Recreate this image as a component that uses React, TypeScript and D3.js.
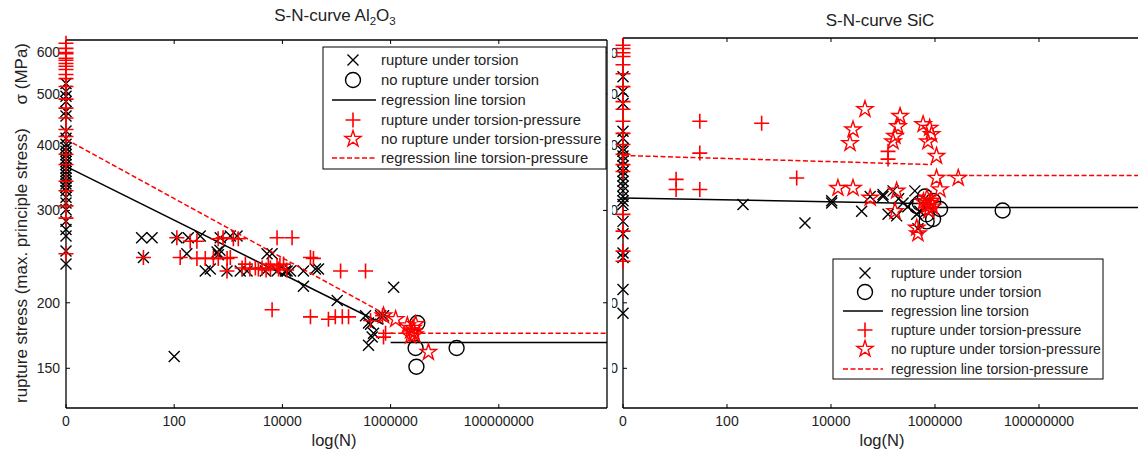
import React from "react";
import * as d3 from "d3";

// ---------- shared axis data ----------
const xTickValues = [1, 1e2, 1e4, 1e6, 1e8];
const xTickLabels = ["0", "100", "10000", "1000000", "100000000"];
const yTickValues = [150, 200, 300, 400, 500, 600];
const yTickLabels = ["150", "200", "300", "400", "500", "600"];
const legendLabels = [
  "rupture under torsion",
  "no rupture under torsion",
  "regression line torsion",
  "rupture under torsion-pressure",
  "no rupture under torsion-pressure",
  "regression line torsion-pressure",
];

// ---------- Al2O3 ----------
// stresses of specimens plotted at N = 1 (label "0")
const alTorsionAtZero = [524, 506, 495, 484, 463, 454, 425, 412, 401, 395, 389, 383, 377, 372, 367, 361, 356, 351, 346, 341, 337, 332, 327, 318, 310, 301, 286, 276, 268, 251, 237];
const alPressureAtZero = [625, 611, 600, 597, 585, 580, 572, 565, 557, 545, 535, 517, 489, 470, 450, 428, 415, 384, 367, 341, 327, 306, 290, 248];
const alTorsionRupture: [number, number][] = [
  [25, 266], [39, 266], [27, 244], [100, 158], [112, 266], [171, 248], [182, 266], [303, 268],
  [375, 230], [464, 232], [620, 250], [653, 247], [700, 252], [710, 266], [946, 230], [1090, 268],
  [1450, 268], [1660, 230], [2220, 230], [4840, 230], [5200, 248], [6450, 248], [7960, 230],
  [11400, 230], [12200, 230], [14100, 230], [24500, 230], [24500, 215], [40700, 232], [46400, 232],
  [103000, 202], [344000, 189], [390000, 183], [390000, 166], [426000, 182], [457000, 172],
  [484000, 175], [653000, 189], [740000, 189], [1140000, 214],
];
const alTorsionRunout: [number, number][] = [[3120000, 183], [2900000, 164], [3000000, 151], [16600000, 164]];
const alPressureRupture: [number, number][] = [
  [27, 244], [112, 266], [129, 244], [198, 262], [263, 262], [263, 243], [375, 243], [530, 243],
  [650, 265], [653, 243], [800, 266], [950, 243], [946, 230], [1090, 244], [1240, 265], [1530, 265],
  [1800, 233], [2070, 237], [2500, 232], [3160, 233], [3600, 232], [4210, 233], [5000, 231],
  [5500, 237], [6000, 233], [6450, 194], [7960, 266], [7960, 235], [8500, 232], [9000, 236],
  [10500, 237], [12000, 231], [15100, 266], [33000, 244], [37500, 243], [33000, 188], [71000, 186],
  [95000, 188], [119000, 230], [128000, 188], [167000, 188], [344000, 230], [426000, 185],
  [710000, 189], [740000, 172], [808000, 175],
];
const alPressureRunout: [number, number][] = [
  [740000, 189], [1240000, 186], [2040000, 181], [2350000, 177], [2670000, 176], [2350000, 173],
  [2900000, 182], [5000000, 161], [2600000, 179], [2800000, 174],
];
const alRegTorsion: [number, number][] = [[1, 364], [740000, 182]];
const alRegTorsionFlat: [number, number][] = [[1e6, 168], [1e10, 168]];
const alRegPressure: [number, number][] = [[1, 410], [740000, 191]];
const alRegPressureFlat: [number, number][] = [[1e6, 175], [1e10, 175]];

// ---------- SiC ----------
const sicTorsionAtZero = [540, 506, 480, 425, 412, 394, 389, 381, 373, 365, 356, 349, 341, 334, 327, 319, 313, 308, 286, 271, 249, 244, 212, 191];
const sicPressureAtZero = [620, 611, 600, 590, 569, 547, 517, 484, 468, 444, 421, 401, 384, 367, 356, 295, 274, 251, 240];
const sicTorsionRupture: [number, number][] = [
  [203, 308], [3160, 284], [10300, 313], [10300, 310], [38900, 299], [56700, 319], [100000, 319],
  [100000, 322], [125000, 295], [156000, 327], [183000, 293], [243000, 310], [410000, 327],
  [445000, 295], [510000, 299], [470000, 277], [300000, 305], [200000, 316],
];
const sicTorsionRunout: [number, number][] = [
  [510000, 310], [690000, 295], [920000, 289], [1250000, 302], [445000, 306], [640000, 319],
  [920000, 313], [20000000, 300], [690000, 286],
];
const sicPressureRupture: [number, number][] = [
  [30, 444], [464, 440], [30, 386], [10.5, 344], [10.5, 329], [30, 329], [2190, 346], [125000, 389], [125000, 376],
];
const sicPressureRunout: [number, number][] = [
  [45000, 468], [26500, 428], [23200, 403], [13600, 331], [26500, 331], [56700, 317], [213000, 454],
  [194000, 434], [170000, 416], [156000, 406], [590000, 438], [790000, 431], [860000, 419],
  [730000, 406], [1070000, 381], [1070000, 346], [1250000, 329], [2800000, 346], [183000, 327],
  [170000, 299], [445000, 278], [470000, 271], [690000, 306], [700000, 317], [800000, 310],
  [850000, 313], [760000, 300], [900000, 305], [600000, 312],
];
const sicRegTorsion: [number, number][] = [[1, 317], [880000, 309]];
const sicRegTorsionFlat: [number, number][] = [[1e6, 304], [1e10, 304]];
const sicRegPressure: [number, number][] = [[1, 382], [880000, 367]];
const sicRegPressureFlat: [number, number][] = [[1.2e6, 350], [1e10, 350]];

// ---------- styling ----------
const FONT = "Arial, 'Liberation Sans', Helvetica, sans-serif";
const RED = "#ff0000";
const BLACK = "#000000";

const xPath = (s: number) => `M${-s},${-s}L${s},${s}M${-s},${s}L${s},${-s}`;
const plusPath = (p: number) => `M${-p},0H${p}M0,${-p}V${p}`;
const starPath = (R: number) => {
  const r = R * 0.382;
  const pts: string[] = [];
  for (let i = 0; i < 10; i++) {
    const rad = i % 2 === 0 ? R : r;
    const a = -Math.PI / 2 + (i * Math.PI) / 5;
    pts.push(`${(rad * Math.cos(a)).toFixed(2)},${(rad * Math.sin(a)).toFixed(2)}`);
  }
  return "M" + pts.join("L") + "Z";
};

type Sc = (v: number) => number;

function Marker({ kind, x, y }: { kind: string; x: number; y: number }) {
  if (kind === "x")
    return <path d={xPath(5.5)} transform={`translate(${x},${y})`} stroke={BLACK} strokeWidth={1.4} fill="none" />;
  if (kind === "o")
    return <circle cx={x} cy={y} r={7.5} stroke={BLACK} strokeWidth={1.4} fill="none" />;
  if (kind === "+")
    return <path d={plusPath(7.5)} transform={`translate(${x},${y})`} stroke={RED} strokeWidth={1.6} fill="none" />;
  return <path d={starPath(8.5)} transform={`translate(${x},${y})`} stroke={RED} strokeWidth={1.4} fill="none" />;
}

function Series({ pts, kind, xs, ys }: { pts: [number, number][]; kind: string; xs: Sc; ys: Sc }) {
  return (
    <g>
      {pts.map((p, i) => (
        <Marker key={i} kind={kind} x={xs(p[0])} y={ys(p[1])} />
      ))}
    </g>
  );
}

function Legend({ x0, y0, w, h, rowY, markX, lineX0, lineX1, textX, fontSize }: any) {
  const kinds = ["x", "o", "line", "+", "star", "dash"];
  return (
    <g>
      <rect x={x0} y={y0} width={w} height={h} fill="#fff" stroke={BLACK} strokeWidth={1} />
      {kinds.map((k, i) => {
        const y = rowY[i];
        let m: any;
        if (k === "line") m = <line x1={lineX0} x2={lineX1} y1={y} y2={y} stroke={BLACK} strokeWidth={1.5} />;
        else if (k === "dash")
          m = <line x1={lineX0} x2={lineX1} y1={y} y2={y} stroke={RED} strokeWidth={1.5} strokeDasharray="5,2.5" />;
        else m = <Marker kind={k} x={markX} y={y} />;
        return (
          <g key={i}>
            {m}
            <text x={textX} y={y} dy="0.35em" fontSize={fontSize} fontFamily={FONT} fill="#222">
              {legendLabels[i]}
            </text>
          </g>
        );
      })}
    </g>
  );
}

function Panel(props: any) {
  const { xs, ys, x0, x1, yTop, yBot, rightBorder, data, yLabelX, clipId } = props;
  const lineGen = d3
    .line<[number, number]>()
    .x((d) => xs(d[0]))
    .y((d) => ys(d[1]));
  const tk = 4;
  return (
    <g>
      <line x1={x0} x2={x1} y1={yBot} y2={yBot} stroke={BLACK} strokeWidth={1.3} />
      <line x1={x0} x2={x1} y1={yTop} y2={yTop} stroke={BLACK} strokeWidth={1.3} />
      <line x1={x0} x2={x0} y1={yTop} y2={yBot} stroke={BLACK} strokeWidth={1.3} />
      {rightBorder && <line x1={x1} x2={x1} y1={yTop} y2={yBot} stroke={BLACK} strokeWidth={1.3} />}
      {xTickValues.map((v, i) => (
        <g key={"xt" + i}>
          <line x1={xs(v)} x2={xs(v)} y1={yBot} y2={yBot - tk} stroke={BLACK} />
          <line x1={xs(v)} x2={xs(v)} y1={yTop} y2={yTop + tk} stroke={BLACK} />
          <text x={xs(v)} y={426} textAnchor="middle" fontSize={14} fontFamily={FONT} fill="#222">
            {xTickLabels[i]}
          </text>
        </g>
      ))}
      {yTickValues.map((v, i) => (
        <g key={"yt" + i}>
          <line x1={x0} x2={x0 + tk} y1={ys(v)} y2={ys(v)} stroke={BLACK} />
          {rightBorder && <line x1={x1} x2={x1 - tk} y1={ys(v)} y2={ys(v)} stroke={BLACK} />}
        </g>
      ))}
      <g clipPath={clipId ? `url(#${clipId})` : undefined}>
        {yTickValues.map((v, i) => (
          <text key={"yl" + i} x={yLabelX} y={ys(v)} dy="0.35em" textAnchor="end" fontSize={14} fontFamily={FONT} fill="#222">
            {yTickLabels[i]}
          </text>
        ))}
      </g>
      <Series pts={data.tr} kind="x" xs={xs} ys={ys} />
      <Series pts={data.tn} kind="o" xs={xs} ys={ys} />
      <path d={lineGen(data.rt) || ""} stroke={BLACK} strokeWidth={1.5} fill="none" />
      <path d={lineGen(data.rtf) || ""} stroke={BLACK} strokeWidth={1.5} fill="none" />
      <Series pts={data.pr} kind="+" xs={xs} ys={ys} />
      <Series pts={data.pn} kind="star" xs={xs} ys={ys} />
      <path d={lineGen(data.rp) || ""} stroke={RED} strokeWidth={1.5} strokeDasharray="5,2.5" fill="none" />
      <path d={lineGen(data.rpf) || ""} stroke={RED} strokeWidth={1.5} strokeDasharray="5,2.5" fill="none" />
    </g>
  );
}

export default function App() {
  const xL = d3.scaleLog().domain([1, 1e10]).range([66, 607]);
  const yL = d3.scaleLog().domain([126, 634]).range([408, 40]);
  const xR = d3.scaleLog().domain([1, 1e10]).range([623, 1143]);
  const yR = d3.scaleLog().domain([126, 640]).range([408, 38]);

  const alData = {
    tr: [...alTorsionAtZero.map((s) => [1, s] as [number, number]), ...alTorsionRupture],
    tn: alTorsionRunout,
    pr: [...alPressureAtZero.map((s) => [1, s] as [number, number]), ...alPressureRupture],
    pn: alPressureRunout,
    rt: alRegTorsion,
    rtf: alRegTorsionFlat,
    rp: alRegPressure,
    rpf: alRegPressureFlat,
  };
  const sicData = {
    tr: [...sicTorsionAtZero.map((s) => [1, s] as [number, number]), ...sicTorsionRupture],
    tn: sicTorsionRunout,
    pr: [...sicPressureAtZero.map((s) => [1, s] as [number, number]), ...sicPressureRupture],
    pn: sicPressureRunout,
    rt: sicRegTorsion,
    rtf: sicRegTorsionFlat,
    rp: sicRegPressure,
    rpf: sicRegPressureFlat,
  };

  return (
    <svg width={1138} height={454} style={{ position: "absolute", left: 0, top: 0, background: "#fff" }}>
      <defs>
        <clipPath id="rightLabelsClip">
          <rect x={612} y={0} width={30} height={454} />
        </clipPath>
      </defs>
      <rect x={0} y={0} width={1138} height={454} fill="#fff" />

      {/* right panel: SiC */}
      <Panel xs={xR} ys={yR} x0={623} x1={1143} yTop={38} yBot={408} rightBorder={false} data={sicData}
        yLabelX={618} clipId="rightLabelsClip" />
      <text x={880} y={26} textAnchor="middle" fontSize={17} fontFamily={FONT} fill="#222">S-N-curve SiC</text>
      <text x={882} y={446} textAnchor="middle" fontSize={16.5} fontFamily={FONT} fill="#222">log(N)</text>
      <Legend x0={833} y0={259} w={270} h={120} rowY={[273, 292, 311, 330, 349, 369]} markX={865}
        lineX0={843} lineX1={883} textX={891} fontSize={14.1} />

      {/* left panel: Al2O3 */}
      <Panel xs={xL} ys={yL} x0={66} x1={607} yTop={40} yBot={408} rightBorder={true} data={alData} yLabelX={60} />
      <text x={335} y={21} textAnchor="middle" fontSize={17} fontFamily={FONT} fill="#222">
        S-N-curve Al<tspan fontSize={11.5} dy={4}>2</tspan><tspan dy={-4}>O</tspan><tspan fontSize={11.5} dy={4}>3</tspan>
      </text>
      <text x={334} y={446} textAnchor="middle" fontSize={16.5} fontFamily={FONT} fill="#222">log(N)</text>
      <text transform="translate(27,403) rotate(-90)" textAnchor="start" fontSize={17} fontFamily={FONT} fill="#222">
        rupture stress (max. principle stress)
      </text>
      <text transform="translate(27,43) rotate(-90)" textAnchor="end" fontSize={17} fontFamily={FONT} fill="#222">
        {"\u03c3 (MPa)"}
      </text>
      <Legend x0={323} y0={47} w={283} h={122} rowY={[60, 80, 100, 120, 139, 158]} markX={353}
        lineX0={332} lineX1={376} textX={381} fontSize={14.8} />
    </svg>
  );
}
